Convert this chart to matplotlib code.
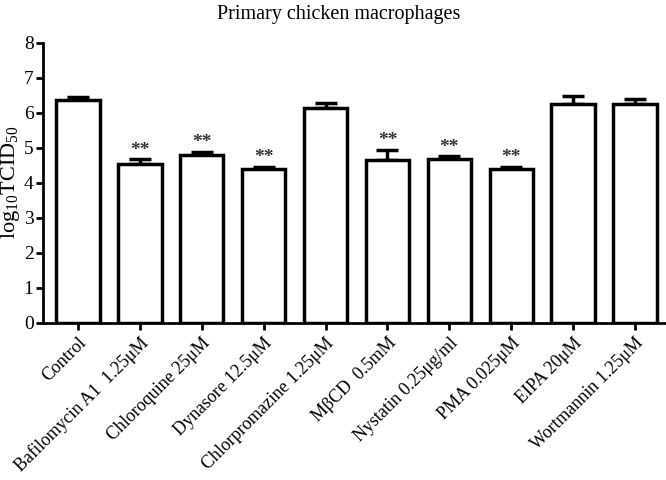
import numpy as np
import matplotlib.pyplot as plt

plt.rcParams['font.family'] = ['Liberation Serif', 'DejaVu Serif']
plt.rcParams['mathtext.fontset'] = 'custom'
plt.rcParams['mathtext.rm'] = 'Liberation Serif'
plt.rcParams['mathtext.it'] = 'Liberation Serif:italic'

# Data
labels = ["Control", "Bafilomycin A1  1.25\u03bcM", "Chloroquine 25\u03bcM",
          "Dynasore 12.5\u03bcM", "Chlorpromazine 1.25\u03bcM", "M\u03b2CD  0.5mM",
          "Nystatin 0.25\u03bcg/ml", "PMA 0.025\u03bcM", "EIPA 20\u03bcM",
          "Wortmannin 1.25\u03bcM"]
values = [6.36, 4.52, 4.79, 4.38, 6.12, 4.66, 4.69, 4.38, 6.26, 6.24]
errors = [0.08, 0.15, 0.10, 0.07, 0.16, 0.27, 0.06, 0.07, 0.21, 0.16]
signif = ["", "**", "**", "**", "", "**", "**", "**", "", ""]

fig = plt.figure(figsize=(6.66, 4.8), dpi=100)
ax = fig.add_axes([0.065, 0.328, 0.935, 0.583])

x = np.arange(len(labels))
ax.bar(x, values, width=0.7, color="white", edgecolor="black", linewidth=2.5, zorder=2)
ax.errorbar(x, values, yerr=[np.zeros(len(errors)), errors], fmt="none",
            ecolor="black", elinewidth=2.5, capsize=8, capthick=2.5, zorder=1)

# significance marks above error bars
for xi, v, e, s in zip(x, values, errors, signif):
    if s:
        ax.text(xi, v + e + 0.02, s, ha="center", va="bottom", fontsize=14,
                fontweight="bold", color="#333333")

ax.set_xlim(-0.56, 9.5)
ax.set_ylim(0, 8)
ax.set_yticks(range(0, 9))
ax.set_xticks(x)
ax.set_xticklabels(labels, rotation=45, ha="right", rotation_mode="anchor", fontsize=13)
ax.tick_params(axis="y", labelsize=14, width=2, length=5, pad=2)
ax.tick_params(axis="x", width=2, length=5)
for side in ["top", "right"]:
    ax.spines[side].set_visible(False)
for side in ["left", "bottom"]:
    ax.spines[side].set_linewidth(2)

ax.set_ylabel(r"log$_{10}$TCID$_{50}$", fontsize=16, labelpad=1)
fig.text(0.508, 0.97, "Primary chicken macrophages", ha="center", va="center", fontsize=14.5)

fig.savefig("out.png", dpi=100)
